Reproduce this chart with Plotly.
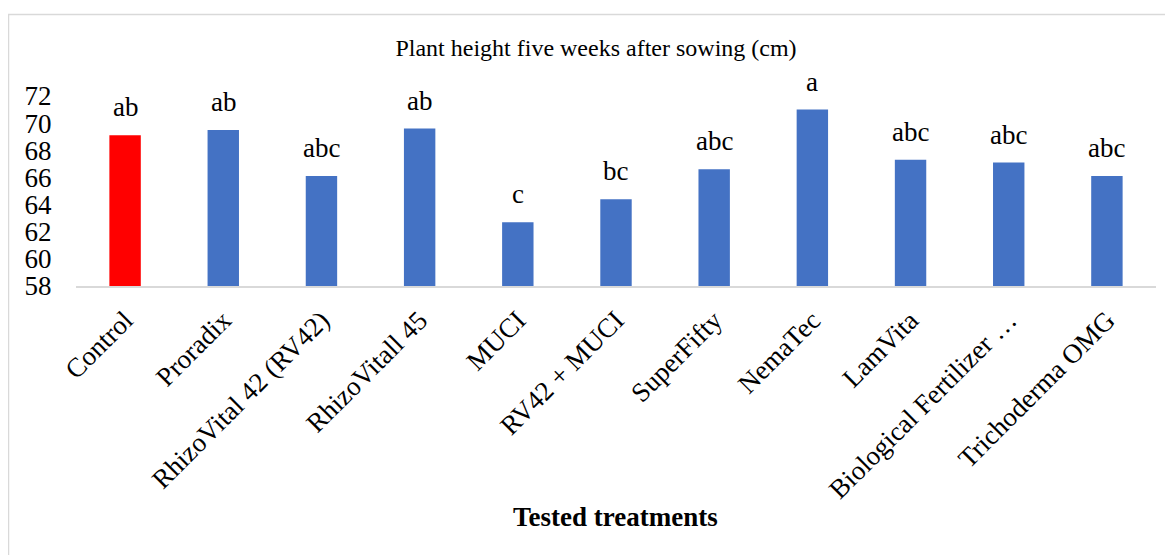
import plotly.graph_objects as go

categories = ["Control", "Proradix", "RhizoVital 42 (RV42)", "RhizoVitall 45", "MUCI",
              "RV42 + MUCI", "SuperFifty", "NemaTec", "LamVita",
              "Biological Fertilizer …", "Trichoderma OMG"]
heights = [69.1, 69.5, 66.1, 69.6, 62.7, 64.4, 66.6, 71.0, 67.3, 67.1, 66.1]
letters = ["ab", "ab", "abc", "ab", "c", "bc", "abc", "a", "abc", "abc", "abc"]
y_ticks = [58, 60, 62, 64, 66, 68, 70, 72]

colors = ["#FF0000"] + ["#4472C4"] * (len(categories) - 1)

FONT = "Liberation Serif, Times New Roman, serif"

W, H = 1173, 555
OFF = 8  # page body margin
# desired screen positions of plot area
SL, SR, ST, SB = 76, 1156, 96, 286
L, T = SL - OFF, ST - OFF
R = W - (SR - OFF)
B = H - (SB - OFF)
pw, ph = W - L - R, H - T - B

def px_x(p):
    return (p - OFF - L) / pw

def px_y(p):
    return (H - B - (p - OFF)) / ph

fig = go.Figure()
fig.add_trace(go.Bar(
    x=categories, y=heights,
    marker=dict(color=colors, line=dict(width=0)),
    width=0.32,
    cliponaxis=False,
    hoverinfo="x+y",
))

for c, h, t in zip(categories, heights, letters):
    fig.add_annotation(x=c, y=h, text=t, showarrow=False, yanchor="bottom",
                       yshift=11, font=dict(family=FONT, size=27, color="#000000"))

fig.add_shape(type="rect", xref="paper", yref="paper",
              x0=px_x(8.5), x1=px_x(1190), y0=px_y(14.5), y1=px_y(575),
              line=dict(color="#D9D9D9", width=1.5), fillcolor="rgba(0,0,0,0)", layer="below")

fig.update_layout(
    width=W, height=H,
    margin=dict(l=L, r=R, t=T, b=B, autoexpand=False),
    paper_bgcolor="#FFFFFF", plot_bgcolor="#FFFFFF",
    showlegend=False,
    font=dict(family=FONT, color="#000000"),
    title=dict(text="Plant height five weeks after sowing (cm)",
               x=px_x(596), xref="paper", xanchor="center",
               y=1 - (48 - OFF) / H, yanchor="middle",
               font=dict(family=FONT, size=24, color="#000000")),
    bargap=0.68,
)

fig.update_xaxes(
    showgrid=False, zeroline=False, showline=True, linecolor="#D9D9D9", linewidth=1.5,
    tickangle=-45, tickfont=dict(family=FONT, size=27, color="#000000"),
    ticks="outside", ticklen=6, tickcolor="rgba(0,0,0,0)",
    range=[-0.5, len(categories) - 0.5],
)
fig.update_yaxes(
    range=[58, 72], tickvals=y_ticks, ticktext=[str(v) for v in y_ticks],
    showgrid=False, zeroline=False, showline=False,
    tickfont=dict(family=FONT, size=27, color="#000000"),
    ticks="outside", ticklen=18, tickcolor="rgba(0,0,0,0)",
)

fig.add_annotation(text="<b>Tested treatments</b>", xref="paper", yref="paper",
                   x=px_x(615), y=px_y(517), showarrow=False, xanchor="center", yanchor="middle",
                   font=dict(family=FONT, size=27, color="#000000"))

fig.write_html("out.html")
